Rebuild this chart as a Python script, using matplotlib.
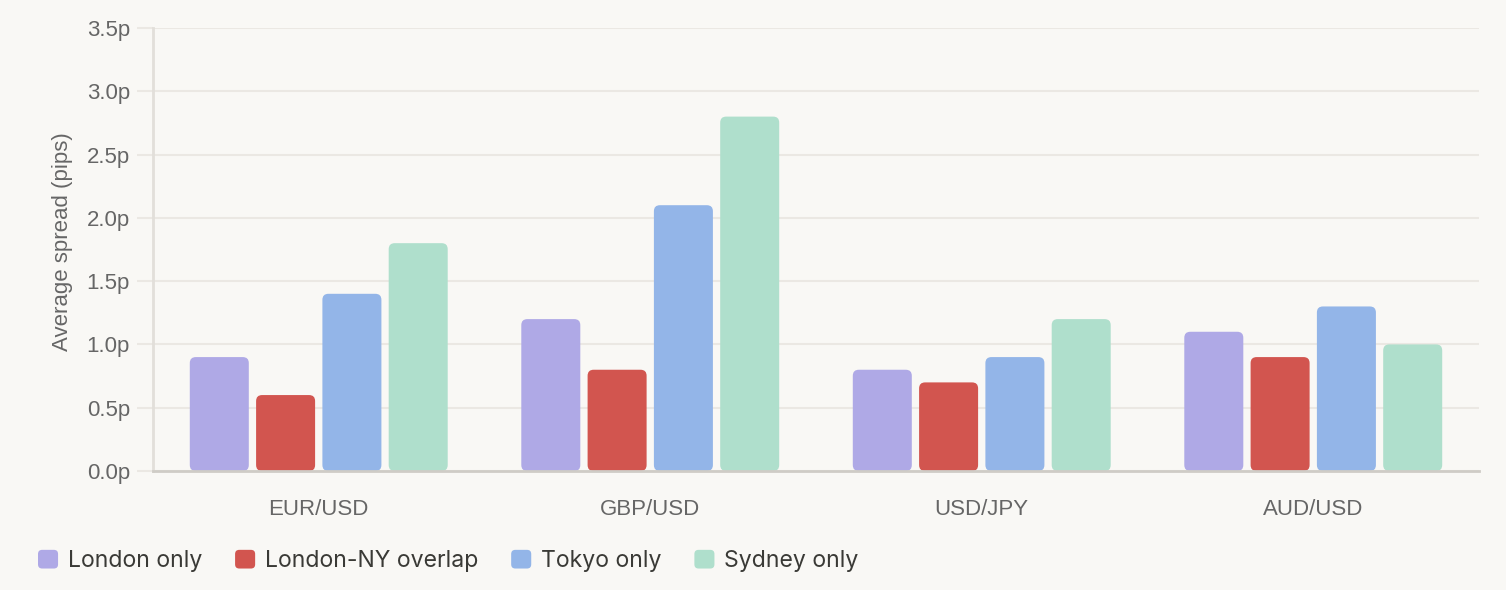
import numpy as np
import matplotlib
matplotlib.use("Agg")
import matplotlib.pyplot as plt
from matplotlib.patches import FancyBboxPatch, Patch
from matplotlib.legend_handler import HandlerPatch

pairs = ["EUR/USD", "GBP/USD", "USD/JPY", "AUD/USD"]
sessions = ["London only", "London-NY overlap", "Tokyo only", "Sydney only"]
london = [0.9, 1.2, 0.8, 1.1]
overlap = [0.6, 0.8, 0.7, 0.9]
tokyo = [1.4, 2.1, 0.9, 1.3]
sydney = [1.8, 2.8, 1.2, 1.0]
yticks = [0.0, 0.5, 1.0, 1.5, 2.0, 2.5, 3.0, 3.5]

colors = ["#AFA9E6", "#D2554F", "#93B5E8", "#AFDFCC"]
bg = "#F9F8F5"
tick_col = "#666666"
grid_col = "#EBE8E3"

fig = plt.figure(figsize=(15.06, 5.90), dpi=100, facecolor=bg)
ax = fig.add_axes([153/1506, 1-471/590, (1479-153)/1506, (471-28)/590])
ax.set_facecolor(bg)
ax.set_xlim(-0.5, 3.5)
ax.set_ylim(0, 3.5)

x = np.arange(len(pairs))
series = [london, overlap, tokyo, sydney]
offsets = [-0.3, -0.1, 0.1, 0.3]
bw = 0.178

# pixel scale to keep corner rounding circular
ppx = ax.get_position().width * 1506 / 4.0
ppy = ax.get_position().height * 590 / 3.5
aspect = ppx / ppy
rad = 6 / ppx

for vals, off, col in zip(series, offsets, colors):
    bars = ax.bar(x + off, vals, bw, color=col, zorder=3)
    for r in bars:
        r.set_visible(False)
        fb = FancyBboxPatch((r.get_x(), r.get_y()), r.get_width(), r.get_height(),
                            boxstyle="round,pad=0,rounding_size=%f" % rad,
                            mutation_aspect=aspect, facecolor=col, edgecolor="none", zorder=3)
        ax.add_patch(fb)

ax.set_yticks(yticks)
ax.set_yticklabels(["%.1fp" % v for v in yticks])
ax.set_xticks(x)
ax.set_xticklabels(pairs)
ax.grid(axis="y", color=grid_col, linewidth=1.5, zorder=0)
ax.tick_params(axis="y", length=11.5, width=1.5, color=grid_col, pad=5,
               labelsize=16, labelcolor=tick_col)
ax.tick_params(axis="x", length=0, pad=20.5, labelsize=16, labelcolor=tick_col)
for lab in ax.get_xticklabels() + ax.get_yticklabels():
    lab.set_fontfamily("Liberation Sans")

for s in ["top", "right"]:
    ax.spines[s].set_visible(False)
ax.spines["left"].set_color("#E2DFDA")
ax.spines["left"].set_linewidth(2)
ax.spines["bottom"].set_color("#CFCCC6")
ax.spines["bottom"].set_linewidth(2)
ax.spines["bottom"].set_zorder(4)

ax.set_ylabel("Average spread (pips)", fontsize=16, color=tick_col,
              fontfamily="Liberation Sans")
ax.yaxis.set_label_coords((73 - 153) / (1479 - 153), (471 - 242) / (471 - 28))


def rounded_handle(legend, orig_handle, xdescent, ydescent, width, height, fontsize):
    return FancyBboxPatch((-xdescent, -ydescent), width, height,
                          boxstyle="round,pad=0,rounding_size=3")


handles = [Patch(facecolor=c, edgecolor="none") for c in colors]
leg = fig.legend(handles, sessions, loc="center left", bbox_to_anchor=(38/1506, 1-561/590),
                 ncol=4, frameon=False, borderpad=0, borderaxespad=0,
                 handlelength=0.87, handleheight=0.87, handletextpad=0.43,
                 columnspacing=1.42, prop={"family": "Inter", "size": 16.6},
                 handler_map={Patch: HandlerPatch(patch_func=rounded_handle)})
for t in leg.get_texts():
    t.set_color("#3A3A36")

fig.savefig("out.png", dpi=100, facecolor=bg)
